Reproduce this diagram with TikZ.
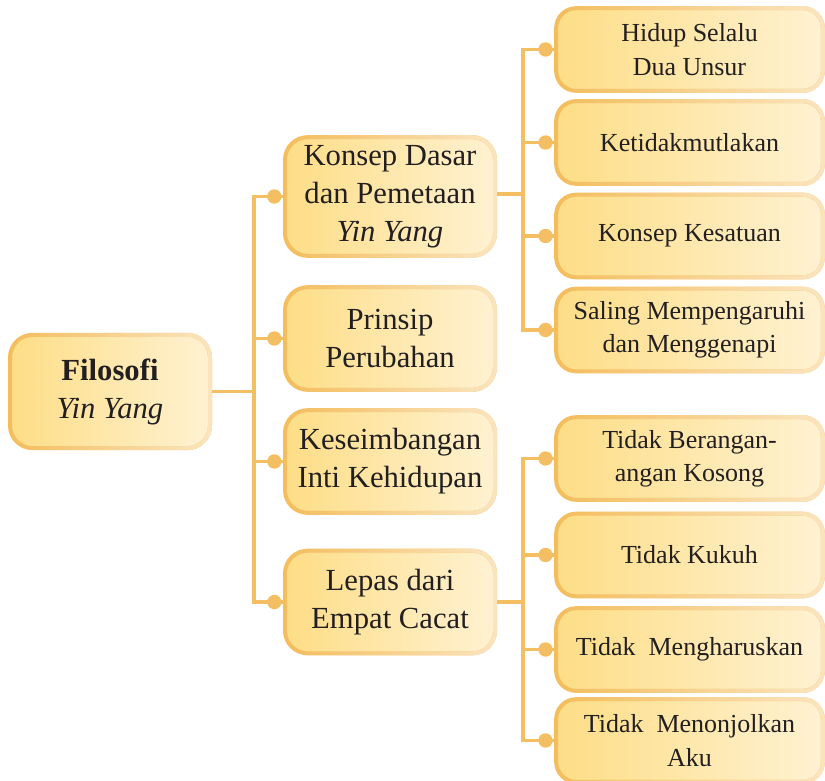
\documentclass[tikz,border=0pt]{standalone}
\usepackage{fontspec}
\setmainfont{Liberation Serif}
\usepackage{tikz}
\usetikzlibrary{positioning, fadings}

\definecolor{boxL}{HTML}{FDDD86}
\definecolor{boxR}{HTML}{FFF2D2}
\definecolor{edgeL}{HTML}{F4BD5C}
\definecolor{edgeR}{HTML}{FBE5C0}
\definecolor{linkC}{HTML}{F3BF62}
\definecolor{inkC}{HTML}{231F20}
\tikzfading[name=edgefade, left color=transparent!100, right color=transparent!0]

\begin{document}
\begin{tikzpicture}[
        x=0.75pt, y=-0.75pt,
        box/.style={rectangle, rounded corners=17pt, left color=boxL, right color=boxR, draw=edgeL, line width=3pt,
            postaction={draw=edgeR, line width=3pt, path fading=edgefade},
            minimum width=157.5pt, minimum height=77pt, align=center, text=inkC,
            font=\fontsize{23}{28.5}\selectfont},
        rootbox/.style={box, minimum width=150pt, minimum height=85pt},
        leafbox/.style={box, rounded corners=15pt, minimum width=200pt, minimum height=62pt,
            font=\fontsize{19.5}{25}\selectfont},
        link/.style={draw=linkC, line width=2.6pt},
        knob/.style={fill=linkC}
        ]
        \useasboundingbox (0,0) rectangle (825,781);

        \node[rootbox] (filosofi) at (110,391.5) {\textbf{Filosofi}\\\textit{Yin Yang}};

        \node[box, minimum height=89pt] (konsep) at (390,196.5) {Konsep Dasar\\dan Pemetaan\\\textit{Yin Yang}};
        \node[box] (prinsip) at (390,338.5) {Prinsip\\Perubahan};
        \node[box] (seimbang) at (390,461.5) {Keseimbangan\\Inti Kehidupan};
        \node[box] (lepas) at (390,602) {Lepas dari\\Empat Cacat};

        \node[leafbox] (hidup) at (689.5,49.5) {Hidup Selalu\\Dua Unsur};
        \node[leafbox] (mutlak) at (689.5,142.5) {Ketidakmutlakan};
        \node[leafbox] (kesatuan) at (689.5,236) {Konsep Kesatuan};
        \node[leafbox] (saling) at (689.5,330) {Saling Mempengaruhi\\dan Menggenapi};

        \node[leafbox] (berangan) at (689.5,458.5) {Tidak Berangan-\\angan Kosong};
        \node[leafbox] (kukuh) at (689.5,555) {Tidak Kukuh};
        \node[leafbox] (harus) at (689.5,649.5) {Tidak\ \ Mengharuskan};
        \node[leafbox] (menonjol) at (689.5,740.5) {Tidak\ \ Menonjolkan\\Aku};

        % trunks
        \coordinate (trunkA) at (254,391.5);
        \coordinate (trunkB) at (523,194);
        \coordinate (trunkC) at (523,602);

        \draw[link] (filosofi) -- (trunkA);
        \foreach \n in {konsep, prinsip, seimbang, lepas}
            \draw[link] (trunkA) |- (\n);

        \draw[link] (konsep.east |- trunkB) -- (trunkB);
        \foreach \n in {hidup, mutlak, kesatuan, saling}
            \draw[link] (trunkB) |- (\n);

        \draw[link] (lepas) -- (trunkC);
        \foreach \n in {berangan, kukuh, harus, menonjol}
            \draw[link] (trunkC) |- (\n);

        % dots
        \foreach \n in {konsep, prinsip, seimbang, lepas, hidup, mutlak, kesatuan, saling, berangan, kukuh, harus, menonjol}
            \fill[knob] ([xshift=-6.5pt]\n.west) circle (5.4pt);
    \end{tikzpicture}
\end{document}
